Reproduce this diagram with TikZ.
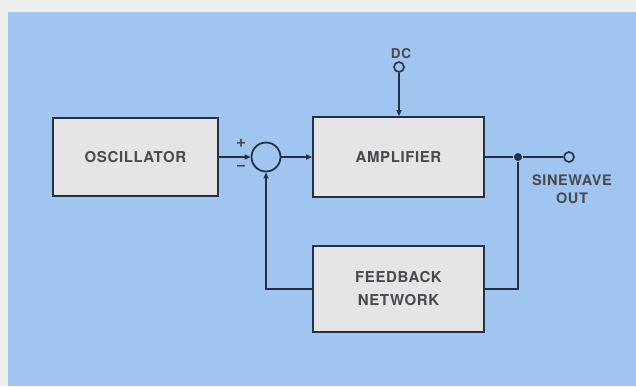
\documentclass[tikz,border=0pt]{standalone}
\usepackage{fontspec}
\setmainfont{TeX Gyre Heros}[LetterSpace=4]
\usetikzlibrary{arrows.meta}
\definecolor{bgblue}{RGB}{160,197,240}
\definecolor{pagec}{RGB}{238,238,236}
\definecolor{boxc}{RGB}{229,229,231}
\definecolor{ink}{RGB}{38,48,68}
\definecolor{txt}{RGB}{72,72,78}
\begin{document}
\begin{tikzpicture}[x=1pt,y=-1pt,line width=1.8pt,
  block/.style={draw=ink,fill=boxc,rectangle,inner sep=0pt,text=txt,font=\bfseries\fontsize{15}{23}\selectfont,align=center},
  term/.style={draw=ink,fill=bgblue,circle,inner sep=0pt,minimum size=10pt,line width=1.6pt},
  lbl/.style={text=txt,inner sep=0pt,font=\bfseries\fontsize{14.5}{18.5}\selectfont,align=center},
  arr/.style={-{Triangle[length=6pt,width=5pt]}},
  wire/.style={draw=ink}]
\fill[pagec] (0,0) rectangle (636,386);
\fill[bgblue] (8,12) rectangle (636,386);
\useasboundingbox (0,0) rectangle (636,386);

\node[block,minimum width=165pt,minimum height=78pt] (osc) at (135.5,157) {OSCILLATOR};
\node[block,minimum width=171pt,minimum height=80pt] (amp) at (398.5,157) {AMPLIFIER};
\node[block,minimum width=171pt,minimum height=86pt] (fb) at (398.5,289) {FEEDBACK\\NETWORK};
\node[draw=ink,circle,inner sep=0pt,minimum size=29pt] (sum) at (266,157) {};
\node[term] (dc) at (399,67) {};
\node[lbl,font=\bfseries\fontsize{13.5}{16}\selectfont] (dclbl) at (401,54) {DC};
\node[circle,fill=ink,inner sep=0pt,minimum size=8pt] (junc) at (518,157) {};
\node[term] (out) at (569,157) {};
\node[lbl] (outlbl) at (572,189) {SINEWAVE\\OUT};
\node[lbl,font=\bfseries\fontsize{17}{17}\selectfont] (plus) at (241,143) {+};
\node[lbl,font=\bfseries\fontsize{17}{17}\selectfont] (minus) at (241,168) {−};

\draw[wire,arr] (osc.east) -- (sum.west);
\draw[wire,arr] (sum.east) -- (amp.west);
\draw[wire,arr] (dc.south) -- (dc.south |- amp.north);
\draw[wire] (amp.east) -- (junc) -- (out.west);
\draw[wire] (junc) |- (fb.east);
\draw[wire,arr] (fb.west) -| (sum.south);
\end{tikzpicture}
\end{document}
